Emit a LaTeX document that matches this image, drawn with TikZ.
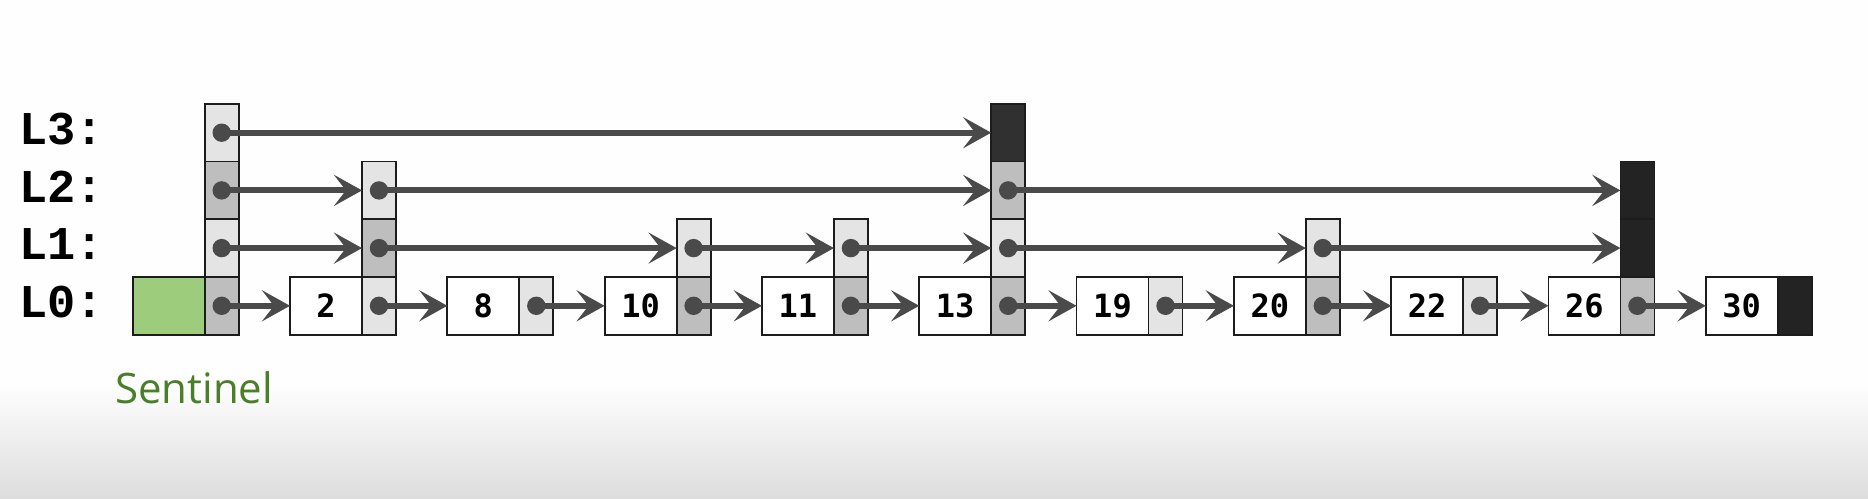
\documentclass[tikz,border=0pt]{standalone}
\usepackage{fontspec}
\usetikzlibrary{arrows.meta}
\newfontfamily\labfont{Liberation Mono}
\newfontfamily\numfont{DejaVu Sans Mono}
\newfontfamily\sentfont{Open Sans}
\definecolor{cellLight}{HTML}{E4E4E4}
\definecolor{cellMid}{HTML}{BEBEBE}
\definecolor{cellDark}{HTML}{232323}
\definecolor{cellDarkB}{HTML}{303030}
\definecolor{sentGreen}{HTML}{9CCC7C}
\definecolor{sentText}{HTML}{4B7E29}
\definecolor{ptrCol}{HTML}{4A4A4A}
\definecolor{edgeCol}{HTML}{1C1C1C}
\definecolor{bgBottom}{HTML}{DEDDDE}
\tikzset{
  pcell/.style={draw=edgeCol, line width=1.8pt, minimum width=34pt, minimum height=57.7pt, inner sep=0pt, outer sep=0pt},
  dbox/.style={draw=edgeCol, line width=1.8pt, fill=white, minimum width=72pt, minimum height=57.7pt, inner sep=0pt, outer sep=0pt, font=\numfont\bfseries\fontsize{32}{32}\selectfont},
  lvl/.style={anchor=base west, inner sep=0pt, font=\labfont\bfseries\fontsize{47}{47}\selectfont},
  ptr/.style={draw=ptrCol, line width=6pt, -{Stealth[length=28pt, width=31pt, inset=12pt]}},
  dot/.style={fill=ptrCol}
}
\newcommand\mkcell[3]{\node[pcell, fill=#3] (p#1-#2) at ({132.7+157.3*#1+89},{305.8-57.7*#2}) {};}
\newcommand\mkdata[2]{\node[dbox] (d#1) at ({132.7+157.3*#1+36},305.8) {#2};}
\newcommand\lnk[2]{\draw[ptr] (#1.center) -- (#2.west);}
\newcommand\mkdot[1]{\fill[dot] (#1.center) circle (9.2pt);}
\begin{document}
\begin{tikzpicture}[x=1pt,y=-1pt]
\useasboundingbox (0,0) rectangle (1868,498);
\fill[white!99!gray] (0,0) rectangle (1868,498);
\shade[top color=white!99!gray, bottom color=bgBottom] (0,385) rectangle (1868,498);
% level labels
\node[lvl] (lab3) at (19,144.3) {L3:};
\node[lvl] (lab2) at (19,202.0) {L2:};
\node[lvl] (lab1) at (19,259.7) {L1:};
\node[lvl] (lab0) at (19,317.3) {L0:};
% sentinel
\node[dbox, fill=sentGreen] (d0) at ({132.7+36},305.8) {};
\node[anchor=base west, inner sep=0pt, text=sentText, font=\sentfont\fontsize{42}{42}\selectfont] (sent) at (115,403) {Sentinel};
% data boxes
\mkdata{1}{2}
\mkdata{2}{8}
\mkdata{3}{10}
\mkdata{4}{11}
\mkdata{5}{13}
\mkdata{6}{19}
\mkdata{7}{20}
\mkdata{8}{22}
\mkdata{9}{26}
\mkdata{10}{30}
% pointer cells
\mkcell{0}{0}{cellMid}\mkcell{0}{1}{cellLight}\mkcell{0}{2}{cellMid}\mkcell{0}{3}{cellLight}
\mkcell{1}{0}{cellLight}\mkcell{1}{1}{cellMid}\mkcell{1}{2}{cellLight}
\mkcell{2}{0}{cellLight}
\mkcell{3}{0}{cellMid}\mkcell{3}{1}{cellLight}
\mkcell{4}{0}{cellMid}\mkcell{4}{1}{cellLight}
\mkcell{5}{0}{cellMid}\mkcell{5}{1}{cellLight}\mkcell{5}{2}{cellMid}\mkcell{5}{3}{cellDarkB}
\mkcell{6}{0}{cellLight}
\mkcell{7}{0}{cellMid}\mkcell{7}{1}{cellLight}
\mkcell{8}{0}{cellLight}
\mkcell{9}{0}{cellMid}\mkcell{9}{1}{cellDark}\mkcell{9}{2}{cellDark}
\mkcell{10}{0}{cellDark}
% L3
\lnk{p0-3}{p5-3}
% L2
\lnk{p0-2}{p1-2}\lnk{p1-2}{p5-2}\lnk{p5-2}{p9-2}
% L1
\lnk{p0-1}{p1-1}\lnk{p1-1}{p3-1}\lnk{p3-1}{p4-1}\lnk{p4-1}{p5-1}\lnk{p5-1}{p7-1}\lnk{p7-1}{p9-1}
% L0
\lnk{p0-0}{d1}\lnk{p1-0}{d2}\lnk{p2-0}{d3}\lnk{p3-0}{d4}\lnk{p4-0}{d5}
\lnk{p5-0}{d6}\lnk{p6-0}{d7}\lnk{p7-0}{d8}\lnk{p8-0}{d9}\lnk{p9-0}{d10}
% dots
\mkdot{p0-3}\mkdot{p0-2}\mkdot{p0-1}\mkdot{p0-0}
\mkdot{p1-2}\mkdot{p1-1}\mkdot{p1-0}
\mkdot{p2-0}
\mkdot{p3-1}\mkdot{p3-0}
\mkdot{p4-1}\mkdot{p4-0}
\mkdot{p5-2}\mkdot{p5-1}\mkdot{p5-0}
\mkdot{p6-0}
\mkdot{p7-1}\mkdot{p7-0}
\mkdot{p8-0}
\mkdot{p9-0}
\end{tikzpicture}
\end{document}
